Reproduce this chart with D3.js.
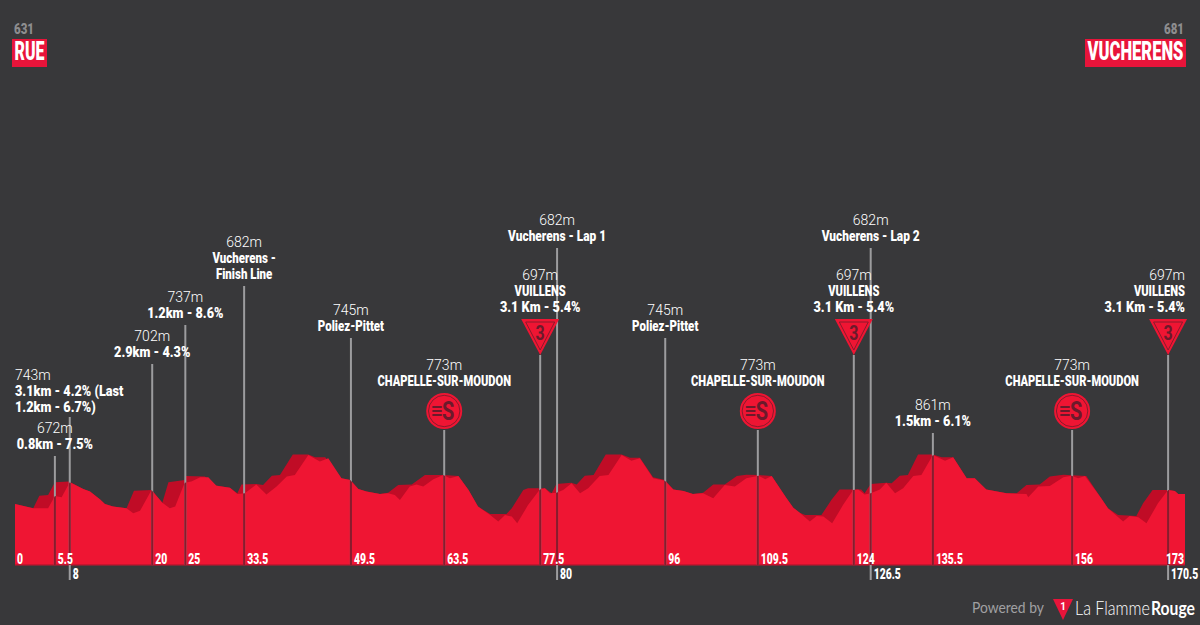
<!DOCTYPE html>
<html><head><meta charset="utf-8">
<script src="https://cdn.jsdelivr.net/npm/d3@7/dist/d3.min.js"></script>
<style>html,body{margin:0;padding:0;background:#38383a;overflow:hidden}svg{display:block}
.b{font-family:"Roboto",sans-serif;font-weight:900;fill:#fff;font-size:14px}
.e{font-family:"Roboto",sans-serif;font-weight:300;fill:#fff;font-size:14px}
</style></head><body><div id="c"></div>
<script>
// Elevation profile: km and metres, top (shaded) outline
const ridgeKm=[0,2.7,3.6,4.9,5.9,8,10.1,11.1,12.6,13.3,14.5,16.5,17.6,20.2,21.8,22.7,25.1,25.2,28.1,29.3,31.8,32.9,33.5,35.7,36.7,38,39.2,41.1,43.4,44.4,45.9,48.3,49.6,50.8,52,54,55.2,56.7,58.7,60.65,63.4,65.6,67.1,68.5,70.3,72.7,73.5,75.2,75.9,78.4,79.4,80.1,82.3,83.1,84.3,85.6,87.4,89.75,91,92.45,94.4,96.15,97.4,98.9,100.3,101.8,103.3,105,106.8,108.2,110,111.95,114.15,115.15,116.1,116.9,119.3,120.8,122,125.2,125.7,126.6,128.9,129.7,130.9,132.1,133.6,135.8,137.1,138.8,140.8,142,143.7,146.7,148.2,149.65,151.6,153.1,155.1,158.5,160.7,161.7,163.2,165.9,166.9,168.3,170.6,171.6,172.1,173.1];
const ridgeM=[631,611,669,672,731,735,700,688,652,631,619,611,692,695,637,731,741,760,757,718,706,680,721,723,718,761,764,859,859,846,846,749,741,700,688,677,683,718,721,764,764,760,695,619,585,585,611,695,703,703,680,723,729,721,761,764,859,859,844,844,754,741,698,691,677,683,721,721,760,766,764,760,657,614,591,580,580,650,698,698,680,723,729,726,761,764,859,859,846,846,749,749,698,680,680,718,721,757,766,760,657,611,580,576,634,695,695,691,677,677];
// Elevation profile: front outline
const frontKm=[0,2.7,4.9,5.9,6.9,8.1,10.1,11.1,12.6,13.3,14.5,16.5,17.5,18.5,20.2,21.8,22.9,23.7,25.1,26.1,27.4,28.6,29.8,31.8,32.9,34,35.7,37.2,38.7,40.2,41.4,43.4,45.1,46.35,48.3,49.6,50.8,52,54,55.2,56.2,56.95,58.4,59.4,60.4,61.9,63.35,64.35,65.6,67.1,68.5,70.3,71.5,72.5,73.5,74.3,75.9,77.65,78.4,79.15,80.1,81.1,82.35,83.6,84.8,86.5,87.8,89.75,91.2,92.45,94.4,96.15,97.4,98.9,100.3,101.8,103.3,105,106.5,108.2,110,111,111.95,114.15,115.15,116.1,117.6,118.6,119.6,120.9,122.5,124,124.75,125.7,126.6,127.95,128.9,130.2,131.4,132.9,134.1,135.8,137.6,138.8,140.8,142,143.7,146.7,149.65,149.9,151.4,153.1,155.1,156.3,157.3,158.3,160.7,161.7,163.95,164.9,166.2,167.4,169.1,170.6,171.6,172.1,173.1];
const frontM=[631,611,611,668,662,731,700,688,652,631,619,611,588,600,695,637,611,619,729,734,754,754,715,706,677,680,721,675,711,757,764,856,826,841,749,741,700,688,677,680,672,649,711,721,711,745,764,749,760,695,619,580,550,580,573,542,626,698,703,680,683,695,726,680,703,760,764,856,830,841,749,738,698,691,677,680,657,718,711,749,761,745,760,657,614,591,550,576,573,542,626,695,698,675,680,698,729,680,703,760,764,856,830,846,749,749,698,680,677,662,711,714,754,761,749,760,657,611,550,576,570,542,634,695,691,677,677];
// Waypoints
const wpKm=[5.9,8.1,20.3,25.2,33.9,49.7,63.5,77.7,80.2,96.2,109.9,124.1,126.6,135.8,156.4,170.6];
const wpTicks=["5.5","8","20","25","33.5","49.5","63.5","77.5","80","96","109.5","124","126.5","135.5","156","170.5"];
const wpAlt=["672m","743m","702m","737m","682m","745m","773m","697m","682m","745m","773m","697m","682m","861m","773m","697m"];
const wpText=[["0.8km - 7.5%"],["3.1km - 4.2% (Last","1.2km - 6.7%)"],["2.9km - 4.3%"],["1.2km - 8.6%"],["Vucherens -","Finish Line"],["Poliez-Pittet"],["CHAPELLE-SUR-MOUDON"],["VUILLENS","3.1 Km - 5.4%"],["Vucherens - Lap 1"],["Poliez-Pittet"],["CHAPELLE-SUR-MOUDON"],["VUILLENS","3.1 Km - 5.4%"],["Vucherens - Lap 2"],["1.5km - 6.1%"],["CHAPELLE-SUR-MOUDON"],["VUILLENS","3.1 Km - 5.4%"]];
const wpKind=["","","","","","","sprint","kom","","","sprint","kom","","","sprint","kom"];
const startName="RUE",startAlt="631",endName="VUCHERENS",endAlt="681",startTick="0",endTick="173";

// layout (separate from data)
const stemTop=[456,417,364,325,286,338,430,355,248,338,430,355,248,433,430,355];
const lowTick=[0,1,0,0,0,0,0,0,1,0,0,0,1,0,0,1];
const W=1200,H=625,BG="#38383a",RED="#ef1533",DARK="#c00c26",INK="#6b1a2b";
const x=d3.scaleLinear().domain([0,173.1]).range([15,1185]);
const y=d3.scaleLinear().domain([631,861]).range([504,454]);
const base=565;
const svg=d3.select("#c").append("svg").attr("width",W).attr("height",H);
svg.append("rect").attr("width",W).attr("height",H).attr("fill",BG);
// squeeze a text horizontally about its anchor x: f<5 is a factor, otherwise a target width
const squeeze=(t,f)=>{const n=t.node(),w=n.getComputedTextLength(),k=f>5?f/w:f,px=+t.attr("x")||0;
  t.attr("transform",`translate(${px},0) scale(${k},1) translate(${-px},0)`);return t;};
const factor=s=>/%/.test(s)?0.905:/^[\d.]+$/.test(s)?0.74:/Lap/.test(s)?0.85:s===s.toUpperCase()?0.795:0.82;
const area=d3.area().x(d=>x(d[0])).y0(base).y1(d=>y(d[1]));
const ridge=d3.zip(ridgeKm,ridgeM), front=d3.zip(frontKm,frontM);
svg.append("path").attr("d",area(ridge)).attr("fill",DARK);
svg.append("path").attr("d",area(front)).attr("fill",RED);
svg.append("rect").attr("x",x(0)).attr("y",base-1).attr("width",x(173.1)-x(0)).attr("height",1.5).attr("fill","#c8142e");
svg.append("clipPath").attr("id","cp").append("path").attr("d",area(front));

// stems
wpKm.forEach((k,i)=>{
  const bot=lowTick[i]?580:base;
  svg.append("line").attr("x1",x(k)).attr("x2",x(k)).attr("y1",stemTop[i]).attr("y2",bot).attr("stroke","#9c9c9e").attr("stroke-width",2);
  svg.append("line").attr("x1",x(k)).attr("x2",x(k)).attr("y1",stemTop[i]).attr("y2",base).attr("stroke","#8a1a2c").attr("stroke-width",2.1).attr("clip-path","url(#cp)");
});

// tick labels
const tick=(t,px,py)=>squeeze(svg.append("text").attr("class","b").attr("x",px).attr("y",py).text(t),factor(t));
tick(startTick,x(0)+2,564);
wpTicks.forEach((t,i)=>{ if(lowTick[i]) tick(t,x(wpKm[i])+3,579); else tick(t,x(wpKm[i])+3,564); });
tick(endTick,1166,564);

// waypoint labels
wpKm.forEach((k,i)=>{
  const lines=wpText[i], n=lines.length;
  let bottom;
  if(wpKind[i]=="sprint") bottom=386; else if(wpKind[i]=="kom") bottom=312; else bottom=stemTop[i]-7;
  if(i==1) bottom=412;
  if(i==0) bottom=449;
  let anchor="middle",px=x(k);
  if(i==1){anchor="start";px=15;}
  if(i==15){anchor="end";px=1185;}
  lines.forEach((l,j)=>squeeze(svg.append("text").attr("class","b").attr("text-anchor",anchor).attr("x",px).attr("y",bottom-(n-1-j)*16).text(l),factor(l)));
  svg.append("text").attr("class","e").attr("text-anchor",anchor).attr("x",px).attr("y",bottom-n*16).text(wpAlt[i]);
  if(wpKind[i]=="sprint"){
    const g=svg.append("g").attr("transform",`translate(${px},411)`);
    g.append("circle").attr("r",18).attr("fill",RED);
    g.append("circle").attr("r",15.7).attr("fill","none").attr("stroke","#8a1a2c").attr("stroke-width",1);
    squeeze(g.append("text").attr("x",4).attr("y",9).attr("text-anchor","middle").attr("font-family","Roboto").attr("font-weight",700).attr("font-size",25).attr("fill",INK).text("S"),0.8);
    [0,1,2].forEach(m=>g.append("line").attr("x1",-11).attr("x2",-3).attr("y1",-4+m*4).attr("y2",-4+m*4).attr("stroke",INK).attr("stroke-width",2).attr("stroke-linecap","round"));
  }
  if(wpKind[i]=="kom"){
    const cx=x(k);
    const g=svg.append("g").attr("transform",`translate(${cx},337)`);
    const big=[[-19,-18],[19,-18],[0,18]], small=[[-14.5,-15],[14.5,-15],[0,13]];
    g.append("path").attr("d",d3.line()(big)+"Z").attr("fill",RED);
    g.append("path").attr("d",d3.line()(small)+"Z").attr("fill","none").attr("stroke","#8a1a2c").attr("stroke-width",1);
    squeeze(g.append("text").attr("y",3).attr("text-anchor","middle").attr("font-family","Roboto").attr("font-weight",700).attr("font-size",20).attr("fill",INK).text("3"),0.8);
  }
});

// start / finish plates
const plate=(name,alt,x0,w,tw,anchorAlt,altX)=>{
  svg.append("rect").attr("x",x0).attr("y",39).attr("width",w).attr("height",28).attr("fill","#e8143a");
  squeeze(svg.append("text").attr("x",x0+w/2).attr("y",60).attr("text-anchor","middle").attr("font-family","Roboto").attr("font-weight",900).attr("font-size",25).attr("fill","#fff").text(name),tw);
  squeeze(svg.append("text").attr("x",altX).attr("y",34).attr("text-anchor",anchorAlt).attr("font-family","Roboto").attr("font-weight",900).attr("font-size",15.5).attr("fill","#8d8d8f").text(alt),20);
};
plate(startName,startAlt,12,35,30,"start",14);
plate(endName,endAlt,1085,101,96,"end",1184);

// footer logo
squeeze(svg.append("text").attr("x",972).attr("y",613).attr("font-family","Lato").attr("font-size",14.5).attr("fill","#a0a0a2").text("Powered by"),72);
const fg=svg.append("g").attr("transform","translate(1063,600)");
fg.append("path").attr("d","M-10,-1L10,-1L0,20Z").attr("fill","#e8143a");
fg.append("text").attr("y",10).attr("text-anchor","middle").attr("font-family","Roboto").attr("font-weight",700).attr("font-size",10).attr("fill","#fff").text("1");
squeeze(svg.append("text").attr("x",1075).attr("y",615).attr("font-family","Lato").attr("font-weight",300).attr("font-size",19).attr("fill","#fff").text("La Flamme"),75);
squeeze(svg.append("text").attr("x",1151).attr("y",615).attr("font-family","Lato").attr("font-weight",700).attr("font-size",19).attr("fill","#fff").text("Rouge"),44);
</script></body></html>
